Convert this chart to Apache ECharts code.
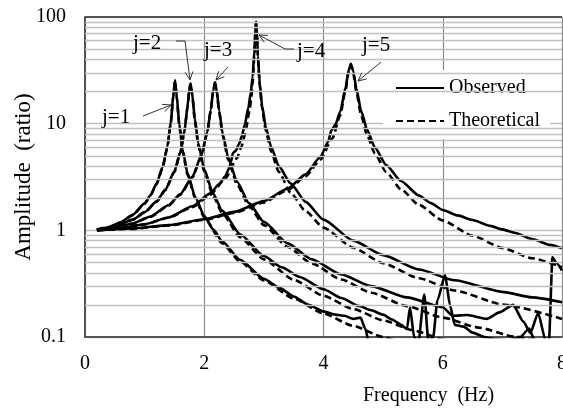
<!DOCTYPE html>
<html><head><meta charset="utf-8">
<script src="https://cdn.jsdelivr.net/npm/echarts@6/dist/echarts.min.js"></script>
<style>html,body{margin:0;padding:0;background:#fff}#c{width:563px;height:409px}</style>
</head><body><div id="c"></div>
<script>
// ---- data: [frequency (Hz), amplitude ratio] ----
const obs1 = [[0.2,1.0],[0.4,1.07],[0.6,1.19],[0.8,1.40],[1.0,1.79],[1.1,2.14],[1.2,2.74],[1.3,3.9],[1.38,6.05],[1.44,10.4],[1.48,18.3],[1.51,25.5],[1.54,18.0],[1.58,10.0],[1.64,5.6],[1.72,3.42],[1.85,2.05],[2.0,1.37],[2.15,1.02],[2.3,0.79],[2.6,0.53],[3.0,0.352],[3.25,0.292],[3.5,0.24],[3.75,0.2],[4.0,0.174],[4.2,0.162],[4.35,0.158],[4.5,0.148],[4.62,0.152],[4.7,0.12],[4.76,0.085]];
const th1 = [[0.2,1.018],[0.4,1.075],[0.6,1.188],[0.8,1.39],[1.0,1.779],[1.1,2.127],[1.2,2.704],[1.3,3.83],[1.38,5.92],[1.44,10.17],[1.48,17.98],[1.51,25.0],[1.54,17.46],[1.58,9.64],[1.64,5.41],[1.72,3.32],[1.85,1.988],[2.0,1.326],[2.3,0.758],[2.6,0.509],[3.0,0.339],[3.5,0.229],[4.0,0.166],[4.5,0.127],[5.0,0.100],[5.3,0.088]];
const obs2 = [[0.2,1.0],[0.5,1.08],[0.8,1.26],[1.0,1.48],[1.2,1.87],[1.35,2.42],[1.5,3.58],[1.6,5.45],[1.67,8.7],[1.72,14.6],[1.75,21.2],[1.77,23.8],[1.80,18.6],[1.84,11.3],[1.9,6.55],[2.0,3.72],[2.15,2.2],[2.3,1.53],[2.6,0.92],[3.0,0.575],[3.3,0.45],[3.6,0.365],[4.0,0.28],[4.3,0.232],[4.6,0.195],[4.8,0.178],[5.0,0.162],[5.15,0.146],[5.3,0.13],[5.4,0.119],[5.45,0.19],[5.52,0.1],[5.59,0.088],[5.69,0.25],[5.76,0.09],[5.84,0.1],[5.91,0.22],[6.04,0.38],[6.12,0.2],[6.2,0.13],[6.35,0.125],[6.5,0.11],[6.7,0.1],[6.9,0.095],[7.1,0.092],[7.3,0.1],[7.45,0.12],[7.55,0.09],[7.7,0.085],[7.78,0.088],[7.84,0.56],[7.9,0.5],[8.0,0.42]];
const th2 = [[0.2,1.013],[0.5,1.087],[0.8,1.257],[1.0,1.469],[1.2,1.85],[1.35,2.383],[1.5,3.52],[1.6,5.35],[1.67,8.55],[1.72,14.41],[1.75,20.96],[1.77,23.47],[1.80,18.15],[1.84,10.87],[1.9,6.29],[2.0,3.56],[2.15,2.098],[2.3,1.452],[2.6,0.864],[3.0,0.534],[3.5,0.344],[4.0,0.2435],[4.5,0.183],[5.0,0.1433],[5.5,0.1155],[6.0,0.0953],[6.3,0.0857]];
const obs3 = [[0.2,1.0],[0.5,1.06],[0.8,1.16],[1.1,1.35],[1.4,1.72],[1.6,2.19],[1.8,3.17],[1.95,5.0],[2.05,8.3],[2.11,13.5],[2.15,20.6],[2.18,24.4],[2.21,20.2],[2.25,13.2],[2.31,8.0],[2.4,4.85],[2.55,2.85],[2.75,1.8],[3.0,1.2],[3.4,0.755],[3.8,0.535],[4.3,0.385],[4.8,0.3],[5.4,0.235],[6.0,0.19],[6.17,0.158],[6.41,0.161],[6.74,0.148],[6.95,0.17],[7.18,0.2],[7.35,0.14],[7.47,0.109],[7.6,0.168],[7.72,0.095],[7.8,0.08]];
const th3 = [[0.2,1.008],[0.5,1.056],[0.8,1.156],[1.1,1.342],[1.4,1.702],[1.6,2.163],[1.8,3.125],[1.95,4.92],[2.05,8.19],[2.11,13.35],[2.15,20.33],[2.18,24.15],[2.21,19.88],[2.25,12.82],[2.31,7.67],[2.4,4.61],[2.55,2.694],[2.75,1.691],[3.0,1.119],[3.4,0.698],[3.8,0.4906],[4.3,0.346],[4.8,0.26],[5.4,0.1947],[6.0,0.152],[6.6,0.1225],[7.2,0.1009],[7.8,0.0847]];
const obs4 = [[0.2,1.0],[0.6,1.05],[1.0,1.14],[1.4,1.32],[1.8,1.68],[2.1,2.22],[2.25,2.72],[2.35,3.2],[2.42,3.85],[2.45,4.4],[2.48,5.3],[2.53,5.6],[2.58,6.4],[2.63,7.6],[2.68,9.8],[2.74,14.2],[2.78,19.5],[2.81,27],[2.84,48],[2.86,80],[2.87,90],[2.88,77],[2.90,43],[2.93,24],[2.97,14.8],[3.03,9.4],[3.12,6.1],[3.25,4.0],[3.45,2.75],[3.7,1.85],[4.0,1.26],[4.5,0.8],[5.0,0.585],[5.6,0.43],[6.2,0.34],[7.0,0.265],[7.5,0.235],[8.0,0.212]];
const th4 = [[0.2,1.005],[0.6,1.046],[1.0,1.138],[1.4,1.312],[1.8,1.648],[2.1,2.152],[2.35,3.035],[2.55,4.748],[2.62,6.0],[2.68,7.79],[2.76,13.16],[2.79,17.8],[2.81,23.3],[2.84,42.3],[2.86,75.1],[2.87,87.7],[2.88,74.8],[2.90,41.8],[2.93,22.8],[2.97,13.9],[3.03,8.68],[3.12,5.5],[3.25,3.54],[3.45,2.247],[3.7,1.511],[4.0,1.061],[4.5,0.686],[5.0,0.491],[5.6,0.356],[6.2,0.2727],[7.0,0.202],[8.0,0.1477]];
const obs5 = [[0.2,1.0],[0.8,1.04],[1.4,1.12],[2.0,1.27],[2.5,1.49],[3.0,1.88],[3.4,2.47],[3.7,3.35],[3.95,4.9],[4.08,6.8],[4.13,8.6],[4.2,9.8],[4.28,12.9],[4.37,21.8],[4.42,31.5],[4.46,36.5],[4.50,31],[4.55,21.5],[4.63,13.3],[4.73,8.8],[4.86,6.0],[5.05,4.1],[5.3,2.9],[5.6,2.12],[5.8,1.8],[6.0,1.55],[6.25,1.38],[6.5,1.25],[6.8,1.1],[7.0,1.02],[7.2,0.95],[7.5,0.83],[7.8,0.73],[8.0,0.68]];
const th5 = [[0.2,1.002],[0.8,1.033],[1.4,1.109],[2.0,1.252],[2.5,1.458],[3.0,1.826],[3.4,2.387],[3.7,3.207],[3.95,4.608],[4.15,7.31],[4.28,11.96],[4.37,20.57],[4.42,30.1],[4.46,35.46],[4.50,29.7],[4.55,20.0],[4.63,12.05],[4.73,7.8],[4.86,5.27],[5.05,3.525],[5.3,2.424],[5.6,1.733],[6.0,1.235],[6.5,0.89],[7.0,0.683],[7.5,0.547],[8.0,0.451]];

const observedSets = [obs1, obs2, obs3, obs4, obs5];
const theoreticalSets = [th1, th2, th3, th4, th5];
const seriesNames = ['Observed', 'Theoretical'];
const modeLabels = ['j=1', 'j=2', 'j=3', 'j=4', 'j=5'];
const minorGridValues = [0.2,0.3,0.4,0.5,0.6,0.7,0.8,0.9,2,3,4,5,6,7,8,9,20,30,40,50,60,70,80,90];
const xTickLabels = ['0','2','4','6','8'];

const FONT = "'Liberation Serif','Times New Roman',serif";
const chart = echarts.init(document.getElementById('c'), null, {renderer: 'canvas'});

function curve(name, data, dashed) {
  return {
    type: 'line', name: name, data: data, symbol: 'none', showSymbol: false,
    smooth: 0.2, smoothMonotone: 'x', clip: true, silent: true, animation: false,
    lineStyle: {color: '#000', width: 2.6, type: dashed ? [7, 4] : 'solid'},
    itemStyle: {color: '#000'}, z: dashed ? 3 : 4
  };
}

const series = [{
  type: 'line', data: [[0, 1]], symbol: 'none', silent: true, animation: false,
  lineStyle: {opacity: 0}, z: 1,
  markLine: {
    silent: true, symbol: 'none', animation: false, label: {show: false},
    lineStyle: {color: '#c0c0c0', width: 1.4, type: 'solid'},
    data: minorGridValues.map(v => ({yAxis: v})).concat([{yAxis: 100, lineStyle: {color: '#555', width: 2, type: 'solid'}}])
  }
}];
theoreticalSets.forEach(d => series.push(curve(seriesNames[1], d, true)));
observedSets.forEach(d => series.push(curve(seriesNames[0], d, false)));

chart.setOption({
  animation: false,
  backgroundColor: '#fff',
  grid: {left: 85, right: 1, top: 17, bottom: 72, containLabel: false, outerBoundsMode: 'none'},
  legend: {
    data: seriesNames, orient: 'vertical', left: 383, top: 70,
    padding: [8, 10, 8, 12], itemGap: 13, itemWidth: 48, itemHeight: 2,
    backgroundColor: '#fff', selectedMode: false,
    itemStyle: {opacity: 0, borderWidth: 0},
    textStyle: {fontFamily: FONT, fontSize: 20, color: '#000'}
  },
  xAxis: {
    type: 'value', min: 0, max: 8, interval: 2,
    axisLine: {show: true, onZero: false, lineStyle: {color: '#555', width: 2}},
    axisTick: {show: false},
    axisLabel: {fontFamily: FONT, fontSize: 20, color: '#000', margin: 17,
      formatter: v => xTickLabels[Math.round(v / 2)]},
    splitLine: {show: true, lineStyle: {color: '#8a8a8a', width: 1.2}}
  },
  yAxis: {
    type: 'log', logBase: 10, min: 0.1, max: 100,
    axisLine: {show: true, lineStyle: {color: '#555', width: 2}},
    axisTick: {show: false},
    axisLabel: {fontFamily: FONT, fontSize: 20, color: '#000', margin: 19,
      formatter: v => (v < 1 ? v.toFixed(1) : String(Math.round(v)))},
    splitLine: {show: true, lineStyle: {color: '#c0c0c0', width: 1.4}},
    name: 'Amplitude  (ratio)', nameLocation: 'middle', nameGap: 50, nameMoveOverlap: false,
    nameTextStyle: {fontFamily: FONT, fontSize: 23, color: '#000'}
  },
  series: series
});

// annotations (labels and arrows), in pixels
const notes = [
  {text: modeLabels[0], x: 102, y: 117, path: [[143,116],[171,105]]},
  {text: modeLabels[1], x: 133, y: 43, path: [[176,41],[185,41],[190,80]]},
  {text: modeLabels[2], x: 204, y: 50, path: [[228,67],[216,80]]},
  {text: modeLabels[3], x: 297, y: 51, path: [[294,49],[285,49],[259,35]]},
  {text: modeLabels[4], x: 362, y: 45, path: [[381,62],[358,81]]}
];
const g = [];
notes.forEach(n => {
  g.push({type: 'text', x: n.x, y: n.y, z: 10, silent: true,
    style: {text: n.text, font: '21px ' + FONT, fill: '#000', textAlign: 'left', textVerticalAlign: 'middle'}});
  g.push({type: 'polyline', z: 10, silent: true, shape: {points: n.path},
    style: {stroke: '#333', lineWidth: 1, fill: null}});
  const p1 = n.path[n.path.length - 2], p2 = n.path[n.path.length - 1];
  const a = Math.atan2(p2[1] - p1[1], p2[0] - p1[0]);
  const L = 9, s = 0.45;
  const w1 = [p2[0] - L * Math.cos(a - s), p2[1] - L * Math.sin(a - s)];
  const w2 = [p2[0] - L * Math.cos(a + s), p2[1] - L * Math.sin(a + s)];
  g.push({type: 'polyline', z: 10, silent: true, shape: {points: [w1, p2, w2]},
    style: {stroke: '#333', lineWidth: 1, fill: null}});
});
g.push({type: 'text', x: 363, y: 396, z: 10, silent: true,
  style: {text: 'Frequency  (Hz)', font: '20px ' + FONT, fill: '#000', textAlign: 'left', textVerticalAlign: 'middle'}});
chart.setOption({graphic: g});
</script></body></html>
